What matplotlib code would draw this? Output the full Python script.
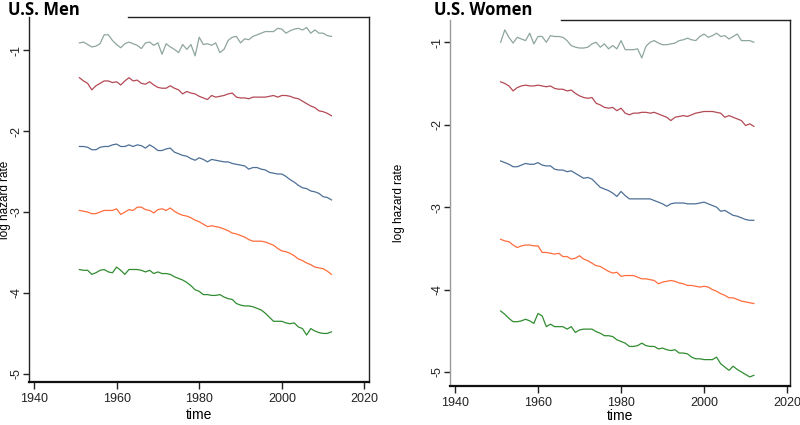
import matplotlib
matplotlib.use("Agg")
import matplotlib.pyplot as plt
import numpy as np

years = list(range(1951, 2013))

men_s1 = [-0.91, -0.90, -0.93, -0.96, -0.95, -0.92, -0.81, -0.81, -0.88, -0.93,
          -0.97, -0.92, -0.90, -0.92, -0.94, -0.98, -0.91, -0.90, -0.94, -0.91,
          -1.05, -0.92, -0.96, -0.99, -1.03, -0.93, -0.99, -0.93, -1.07, -0.84,
          -0.93, -0.92, -0.94, -0.91, -1.03, -0.99, -0.88, -0.84, -0.83, -0.91,
          -0.86, -0.87, -0.83, -0.81, -0.79, -0.77, -0.77, -0.77, -0.73, -0.74,
          -0.79, -0.76, -0.74, -0.73, -0.75, -0.72, -0.79, -0.75, -0.79, -0.79,
          -0.82, -0.83]
men_s2 = [-1.34, -1.38, -1.41, -1.49, -1.44, -1.41, -1.38, -1.38, -1.40, -1.39,
          -1.43, -1.38, -1.34, -1.38, -1.37, -1.41, -1.42, -1.39, -1.43, -1.46,
          -1.47, -1.47, -1.44, -1.47, -1.49, -1.54, -1.51, -1.53, -1.54, -1.57,
          -1.59, -1.61, -1.56, -1.58, -1.57, -1.56, -1.54, -1.53, -1.58, -1.59,
          -1.59, -1.60, -1.58, -1.58, -1.58, -1.58, -1.57, -1.56, -1.58, -1.56,
          -1.56, -1.57, -1.59, -1.60, -1.63, -1.66, -1.69, -1.71, -1.75, -1.76,
          -1.78, -1.81]
men_s3 = [-2.19, -2.19, -2.20, -2.23, -2.23, -2.20, -2.19, -2.19, -2.17, -2.16,
          -2.19, -2.19, -2.17, -2.19, -2.17, -2.18, -2.21, -2.17, -2.20, -2.24,
          -2.24, -2.22, -2.21, -2.26, -2.28, -2.30, -2.31, -2.34, -2.36, -2.33,
          -2.35, -2.38, -2.35, -2.36, -2.37, -2.38, -2.38, -2.40, -2.41, -2.42,
          -2.43, -2.47, -2.45, -2.45, -2.47, -2.48, -2.51, -2.52, -2.53, -2.53,
          -2.56, -2.60, -2.63, -2.67, -2.70, -2.71, -2.74, -2.75, -2.77, -2.81,
          -2.82, -2.85]
men_s4 = [-2.98, -2.99, -3.00, -3.02, -3.02, -3.00, -2.98, -2.98, -2.98, -2.96,
          -3.03, -3.00, -2.97, -2.98, -2.94, -2.94, -2.97, -2.98, -3.01, -2.97,
          -2.96, -2.98, -2.95, -2.99, -3.02, -3.04, -3.05, -3.07, -3.10, -3.12,
          -3.15, -3.18, -3.17, -3.18, -3.19, -3.21, -3.23, -3.26, -3.27, -3.29,
          -3.31, -3.34, -3.36, -3.36, -3.36, -3.37, -3.39, -3.41, -3.45, -3.48,
          -3.49, -3.51, -3.54, -3.58, -3.60, -3.63, -3.65, -3.68, -3.69, -3.70,
          -3.73, -3.77]
men_s5 = [-3.71, -3.72, -3.72, -3.77, -3.75, -3.72, -3.71, -3.74, -3.75, -3.68,
          -3.72, -3.77, -3.71, -3.71, -3.71, -3.72, -3.74, -3.72, -3.76, -3.74,
          -3.76, -3.76, -3.77, -3.80, -3.82, -3.84, -3.87, -3.91, -3.96, -3.98,
          -4.02, -4.02, -4.03, -4.03, -4.02, -4.05, -4.07, -4.08, -4.13, -4.15,
          -4.16, -4.16, -4.17, -4.19, -4.21, -4.25, -4.30, -4.35, -4.35, -4.35,
          -4.37, -4.38, -4.37, -4.42, -4.44, -4.52, -4.44, -4.47, -4.49, -4.50,
          -4.50, -4.48]

women_s1 = [-1.00, -0.85, -0.94, -1.01, -0.94, -0.96, -0.98, -0.89, -1.02, -0.93,
            -0.93, -1.00, -0.92, -0.93, -0.93, -0.94, -0.98, -1.04, -1.06, -1.07,
            -1.07, -1.06, -1.02, -1.00, -1.06, -1.02, -1.08, -1.04, -1.08, -0.98,
            -1.09, -1.09, -1.09, -1.08, -1.19, -1.05, -1.00, -0.98, -1.01, -1.03,
            -1.03, -1.02, -1.01, -0.98, -0.97, -0.95, -0.97, -0.98, -0.93, -0.90,
            -0.94, -0.92, -0.89, -0.93, -0.92, -0.96, -0.93, -0.90, -0.98, -0.98,
            -0.98, -1.00]
women_s2 = [-1.48, -1.50, -1.53, -1.59, -1.55, -1.53, -1.52, -1.53, -1.53, -1.52,
            -1.53, -1.54, -1.53, -1.56, -1.57, -1.57, -1.59, -1.58, -1.62, -1.65,
            -1.67, -1.68, -1.67, -1.74, -1.76, -1.79, -1.80, -1.79, -1.83, -1.80,
            -1.86, -1.88, -1.86, -1.86, -1.85, -1.85, -1.86, -1.85, -1.87, -1.89,
            -1.91, -1.95, -1.91, -1.90, -1.89, -1.90, -1.88, -1.86, -1.85, -1.84,
            -1.84, -1.84, -1.85, -1.86, -1.91, -1.89, -1.91, -1.93, -1.95, -2.01,
            -1.99, -2.02]
women_s3 = [-2.44, -2.46, -2.48, -2.51, -2.51, -2.49, -2.47, -2.48, -2.48, -2.46,
            -2.49, -2.50, -2.50, -2.54, -2.55, -2.55, -2.57, -2.56, -2.59, -2.62,
            -2.65, -2.64, -2.66, -2.71, -2.76, -2.78, -2.80, -2.83, -2.87, -2.81,
            -2.86, -2.90, -2.90, -2.90, -2.90, -2.90, -2.90, -2.92, -2.94, -2.96,
            -2.99, -2.96, -2.95, -2.95, -2.95, -2.96, -2.96, -2.96, -2.95, -2.94,
            -2.96, -2.98, -3.00, -3.05, -3.04, -3.07, -3.10, -3.11, -3.13, -3.15,
            -3.16, -3.16]
women_s4 = [-3.39, -3.41, -3.42, -3.46, -3.49, -3.47, -3.46, -3.46, -3.47, -3.47,
            -3.55, -3.55, -3.56, -3.57, -3.56, -3.60, -3.60, -3.63, -3.62, -3.59,
            -3.63, -3.65, -3.68, -3.71, -3.72, -3.75, -3.78, -3.80, -3.79, -3.84,
            -3.83, -3.83, -3.83, -3.85, -3.87, -3.87, -3.88, -3.89, -3.93, -3.91,
            -3.90, -3.89, -3.90, -3.92, -3.93, -3.95, -3.95, -3.96, -3.97, -3.96,
            -3.97, -4.00, -4.02, -4.05, -4.07, -4.10, -4.10, -4.12, -4.14, -4.15,
            -4.16, -4.17]
women_s5 = [-4.26, -4.30, -4.35, -4.39, -4.39, -4.38, -4.36, -4.38, -4.41, -4.29,
            -4.32, -4.45, -4.42, -4.45, -4.45, -4.45, -4.48, -4.45, -4.52, -4.49,
            -4.48, -4.48, -4.48, -4.51, -4.53, -4.56, -4.56, -4.57, -4.61, -4.63,
            -4.65, -4.69, -4.69, -4.68, -4.65, -4.68, -4.69, -4.69, -4.72, -4.71,
            -4.73, -4.74, -4.73, -4.77, -4.77, -4.78, -4.82, -4.84, -4.84, -4.85,
            -4.85, -4.85, -4.82, -4.90, -4.94, -4.98, -4.93, -4.97, -5.00, -5.03,
            -5.06, -5.04]

x_ticks = [1940, 1960, 1980, 2000, 2020]
y_ticks = [-5, -4, -3, -2, -1]
y_ticklabels = ["-5", "-4", "-3", "-2", "-1"]
colors = ["#8ea69c", "#b34a55", "#4d6f96", "#ff6d3d", "#318c31"]

tick_font = ["Liberation Sans Narrow", "Liberation Sans", "DejaVu Sans"]

fig = plt.figure(figsize=(8.0, 4.25), dpi=100)

panels = [
    dict(title="U.S. Men", series=[men_s1, men_s2, men_s3, men_s4, men_s5],
         rect=[29/800, 1-382/425, 340/800, 365/425], ylim=(-5.10, -0.59),
         xlim=(1938.8, 2021.1), title_x=8/800, top_start=0.29, left_col="#222222",
         ylab_x=-0.052, xlab_y=-0.072),
    dict(title="U.S. Women", series=[women_s1, women_s2, women_s3, women_s4, women_s5],
         rect=[450/800, 1-386/425, 340/800, 366/425], ylim=(-5.17, -0.73),
         xlim=(1938.8, 2020.7), title_x=434/800, top_start=0.326, left_col="#9a9a9a",
         ylab_x=-0.132, xlab_y=-0.064),
]

for p in panels:
    ax = fig.add_axes(p["rect"])
    for s, c in zip(p["series"], colors):
        ax.plot(years, s, color=c, lw=0.9)
    ax.set_xlim(*p["xlim"])
    ax.set_ylim(*p["ylim"])
    ax.set_xticks(x_ticks)
    ax.set_xticklabels([str(t) for t in x_ticks], family=tick_font, fontsize=9)
    ax.set_yticks(y_ticks)
    ax.set_yticklabels(y_ticklabels, family=tick_font, fontsize=9,
                       rotation=90, va="center", ha="right")
    ax.tick_params(axis="x", length=5, width=1, pad=3, colors="#222222")
    ax.tick_params(axis="y", length=4, width=1, pad=0.5, colors="#222222")
    ax.spines["top"].set_visible(False)
    ax.spines["right"].set_color("#222222")
    ax.spines["right"].set_linewidth(1.0)
    ax.spines["bottom"].set_color("#111111")
    ax.spines["bottom"].set_linewidth(1.6)
    ax.spines["left"].set_color(p["left_col"])
    ax.spines["left"].set_linewidth(1.0)
    ax.plot([p["top_start"], 1.0], [1.0, 1.0], transform=ax.transAxes,
            color="#222222", lw=1.0, clip_on=False)
    ax.set_xlabel("time", family=tick_font, fontsize=10, va="top")
    ax.xaxis.set_label_coords(0.5, p["xlab_y"])
    ax.set_ylabel("log hazard rate", family=["Liberation Sans", "DejaVu Sans"],
                  fontsize=8.5)
    ax.yaxis.set_label_coords(p["ylab_x"], 0.5)
    fig.text(p["title_x"], 1 - 1/425, p["title"], ha="left", va="top",
             family=["Open Sans", "DejaVu Sans"], fontweight="bold", fontsize=12)

fig.savefig("out.png", dpi=100)
